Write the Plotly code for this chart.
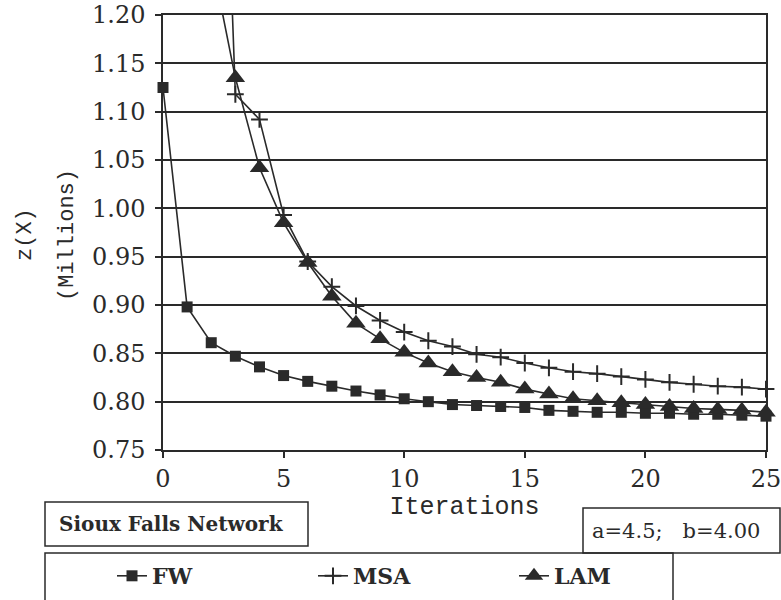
import plotly.graph_objects as go

# ---- data ----
fw_iter = list(range(0, 26))
fw_z = [1.125, 0.898, 0.861, 0.847, 0.836, 0.827, 0.821, 0.816, 0.811, 0.807,
        0.803, 0.800, 0.797, 0.796, 0.795, 0.794, 0.791, 0.790, 0.789, 0.789,
        0.788, 0.788, 0.787, 0.787, 0.786, 0.785]

msa_iter = list(range(2, 26))
msa_z = [1.80, 1.118, 1.092, 0.993, 0.945, 0.919, 0.899, 0.884, 0.872, 0.863,
         0.857, 0.849, 0.846, 0.840, 0.835, 0.831, 0.829, 0.826, 0.823, 0.820,
         0.818, 0.816, 0.815, 0.813]

lam_iter = list(range(2, 26))
lam_z = [1.26, 1.135, 1.042, 0.985, 0.944, 0.909, 0.881, 0.865, 0.851, 0.840,
         0.831, 0.825, 0.820, 0.813, 0.808, 0.803, 0.801, 0.799, 0.797, 0.795,
         0.793, 0.792, 0.791, 0.789]

y_ticks = [0.75, 0.80, 0.85, 0.90, 0.95, 1.00, 1.05, 1.10, 1.15, 1.20]
x_ticks = [0, 5, 10, 15, 20, 25]

network_label = "Sioux Falls Network"
param_label = "a=4.5;\u00a0\u00a0\u00a0b=4.00"

# ---- layout geometry (pixels; page body margin removed below) ----
W, H = 781, 600
L, T = 163, 15
R = W - 766
B = H - 450
PW, PH = W - L - R, H - T - B


def px(x):  # screen x -> paper x
    return (x - L) / PW


def py(y):  # screen y -> paper y
    return (H - B - y) / PH


INK = "#2a2a2a"
SERIF = "DejaVu Serif"
MONO = "Liberation Mono"

fig = go.Figure()
fig.add_trace(go.Scatter(
    x=fw_iter, y=fw_z, name="FW", mode="lines+markers",
    line=dict(color=INK, width=1.6),
    marker=dict(symbol="square", size=11, color=INK),
    cliponaxis=False))
fig.add_trace(go.Scatter(
    x=msa_iter, y=msa_z, name="MSA", mode="lines+markers",
    line=dict(color=INK, width=1.6),
    marker=dict(symbol="cross-thin", size=12, color=INK,
                line=dict(color=INK, width=2)),
    cliponaxis=False))
fig.add_trace(go.Scatter(
    x=lam_iter, y=lam_z, name="LAM", mode="lines+markers",
    line=dict(color=INK, width=1.6),
    marker=dict(symbol="triangle-up", size=17, color=INK),
    cliponaxis=False))

shapes = [
    dict(type="rect", xref="paper", yref="paper",
         x0=px(45), x1=px(308), y0=py(502), y1=py(546),
         line=dict(color=INK, width=1.5)),
    dict(type="rect", xref="paper", yref="paper",
         x0=px(583), x1=px(780), y0=py(508), y1=py(553),
         line=dict(color=INK, width=1.5)),
    dict(type="rect", xref="paper", yref="paper",
         x0=px(45), x1=px(673), y0=py(553), y1=py(650),
         line=dict(color=INK, width=1.5)),
]

annotations = [
    dict(text=network_label, xref="paper", yref="paper",
         x=px(171), y=py(524), showarrow=False,
         xanchor="center", yanchor="middle",
         font=dict(family=SERIF, size=20, color=INK, weight="bold")),
    dict(text=param_label, xref="paper", yref="paper",
         x=px(676), y=py(531), showarrow=False,
         xanchor="center", yanchor="middle",
         font=dict(family=SERIF, size=21, color=INK)),
    dict(text="z(X)", xref="paper", yref="paper",
         x=px(25), y=py(235), showarrow=False, textangle=-90,
         xanchor="center", yanchor="middle",
         font=dict(family=MONO, size=22, color=INK)),
    dict(text="(Millions)", xref="paper", yref="paper",
         x=px(67), y=py(235), showarrow=False, textangle=-90,
         xanchor="center", yanchor="middle",
         font=dict(family=MONO, size=22, color=INK)),
]

fig.update_layout(
    width=W, height=H,
    margin=dict(l=L, r=R, t=T, b=B, autoexpand=False),
    paper_bgcolor="white", plot_bgcolor="white",
    showlegend=True,
    legend=dict(orientation="h", xref="container", yref="container",
                x=112 / W, y=1 - 555 / H,
                xanchor="left", yanchor="top",
                font=dict(family=SERIF, size=22, color=INK, weight="bold"),
                entrywidth=156, entrywidthmode="pixels",
                bgcolor="rgba(0,0,0,0)", borderwidth=0),
    shapes=shapes,
    annotations=annotations,
    xaxis=dict(range=[0, 25], tickvals=x_ticks, ticktext=[str(v) for v in x_ticks],
               showgrid=False, zeroline=False,
               showline=True, linecolor=INK, linewidth=1.5, mirror=True,
               ticks="outside", ticklen=6, tickwidth=1.5, tickcolor=INK,
               ticklabeloverflow="allow",
               tickfont=dict(family=SERIF, size=24, color=INK),
               title=dict(text="Iterations", standoff=4,
                          font=dict(family=MONO, size=25, color=INK))),
    yaxis=dict(range=[0.75, 1.20], tickvals=y_ticks,
               ticktext=[f"{v:.2f}" for v in y_ticks],
               showgrid=True, gridcolor=INK, gridwidth=1.5, zeroline=False,
               showline=True, linecolor=INK, linewidth=1.5, mirror=True,
               ticks="outside", ticklen=6, tickwidth=1.5, tickcolor=INK,
               ticklabelstandoff=5, ticklabeloverflow="allow",
               tickfont=dict(family=SERIF, size=24, color=INK)),
)

fig.write_html(
    "out.html",
    config={"displayModeBar": False},
    post_script="document.body.style.margin='0px';"
                "document.body.style.overflow='hidden';",
)
